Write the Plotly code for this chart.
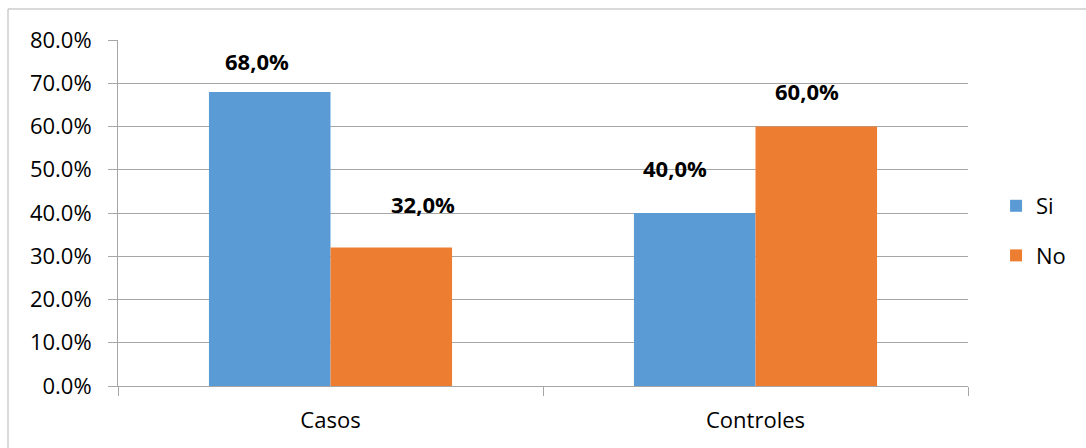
import plotly.graph_objects as go

categories = ["Casos", "Controles"]
si_values = [0.68, 0.40]
no_values = [0.32, 0.60]
si_labels = ["68,0%", "40,0%"]
no_labels = ["32,0%", "60,0%"]

# label placement offsets (pixels) relative to category center / bar top
si_shift = [(-74, 31), (-81, 45)]
no_shift = [(92, 44), (51, 36)]

FONT = "Open Sans"
GRID = "#A6A6A6"
FS = 22

fig = go.Figure()
fig.add_trace(go.Bar(x=categories, y=si_values, name="Si", marker_color="#5B9BD5",
                     marker_line_width=0, legendgroup="a"))
fig.add_trace(go.Bar(x=categories, y=no_values, name="No", marker_color="#ED7D31",
                     marker_line_width=0, legendgroup="b"))

for cat, v, lab, (dx, dy) in zip(categories, si_values, si_labels, si_shift):
    fig.add_annotation(x=cat, y=v, text=f"<b>{lab}</b>", showarrow=False,
                       xshift=dx, yshift=dy, yanchor="middle",
                       font=dict(family=FONT, size=FS, color="#000000"))
for cat, v, lab, (dx, dy) in zip(categories, no_values, no_labels, no_shift):
    fig.add_annotation(x=cat, y=v, text=f"<b>{lab}</b>", showarrow=False,
                       xshift=dx, yshift=dy, yanchor="middle",
                       font=dict(family=FONT, size=FS, color="#000000"))

# outer chart frame
fig.add_shape(type="rect", xref="paper", yref="paper",
              x0=-0.1294, x1=1.3, y0=-0.3, y1=1.0896,
              line=dict(color="#B4B4B4", width=1), layer="below")

fig.update_layout(
    width=1086, height=448,
    margin=dict(l=118, r=118, t=40, b=62, autoexpand=False),
    paper_bgcolor="white", plot_bgcolor="white",
    barmode="group", bargap=0.428, bargroupgap=0,
    font=dict(family=FONT, size=FS, color="#000000"),
    legend=dict(x=1.033, xanchor="left", y=0.448, yanchor="middle",
                font=dict(family=FONT, size=FS), tracegroupgap=18,
                traceorder="grouped", bgcolor="rgba(0,0,0,0)"),
    xaxis=dict(showline=True, linecolor=GRID, linewidth=1,
               ticks="outside", ticklen=9, tickcolor=GRID, tickson="boundaries",
               ticklabelstandoff=15, showgrid=False,
               tickfont=dict(family=FONT, size=FS)),
    yaxis=dict(range=[0, 0.8], dtick=0.1, tickformat=".1%",
               showline=True, linecolor=GRID, linewidth=1,
               ticks="outside", ticklen=9, tickcolor=GRID,
               showgrid=True, gridcolor=GRID, gridwidth=1,
               zeroline=False, ticklabelstandoff=12,
               tickfont=dict(family=FONT, size=FS)),
)

fig.write_html("out.html")
